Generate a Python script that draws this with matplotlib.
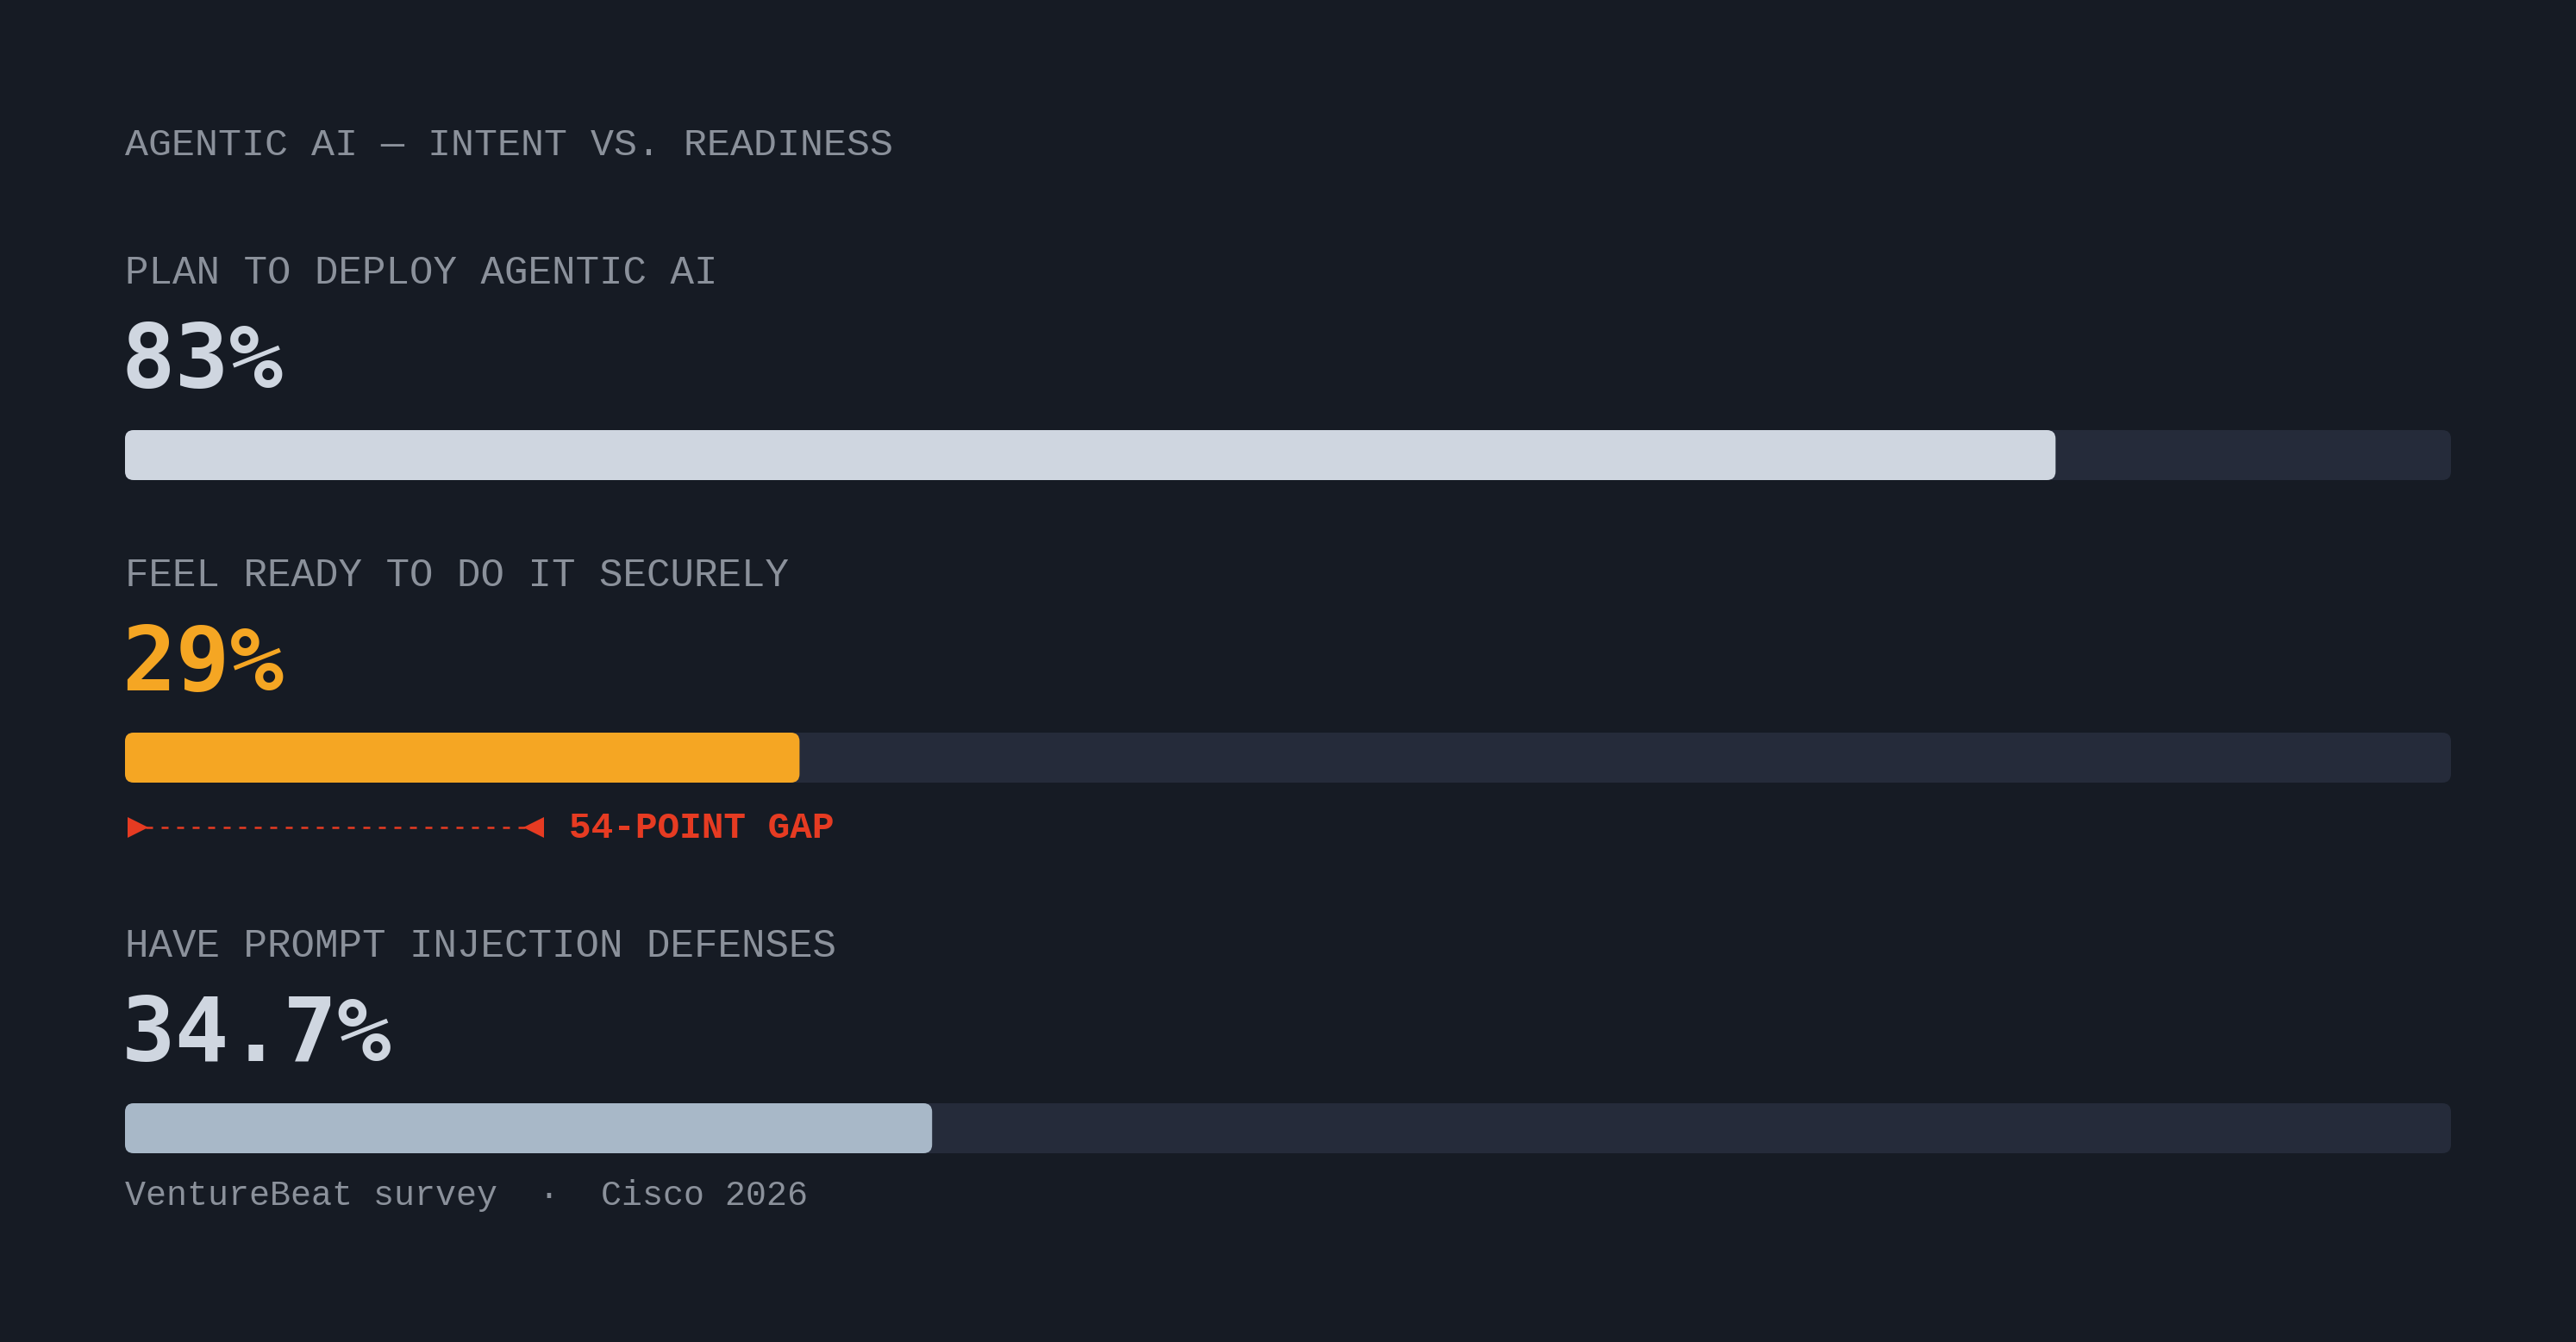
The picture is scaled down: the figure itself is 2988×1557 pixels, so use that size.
import matplotlib
matplotlib.use("Agg")
from matplotlib import pyplot as plt
from matplotlib.patches import FancyBboxPatch

# chart content
title = "AGENTIC AI \u2014 INTENT VS. READINESS"
labels = ["PLAN TO DEPLOY AGENTIC AI", "FEEL READY TO DO IT SECURELY", "HAVE PROMPT INJECTION DEFENSES"]
values = [83, 29, 34.7]
value_text = ["83%", "29%", "34.7%"]
gap_text = "54-POINT GAP"
footer = "VentureBeat survey  \u00b7  Cisco 2026"

# colours
BG = "#161b24"
TRACK = "#252b3a"
GREY = "#8b919b"
RED = "#e63b22"
bar_colors = ["#cfd6e0", "#f5a623", "#a8b8c8"]
num_colors = ["#cfd6e0", "#f5a623", "#cfd6e0"]

# layout (pixels)
W, H, DPI = 2988, 1557, 200
track_left, track_right = 145, 2843
px_per_unit = (track_right - track_left) / 100.0
row_tops = [499, 850, 1280]
bar_h = 58
radius = 10

fig = plt.figure(figsize=(W / DPI, H / DPI), dpi=DPI, facecolor=BG)
ax = fig.add_axes([0, 0, 1, 1])
ax.set_facecolor(BG)
ax.set_xlim(-track_left / px_per_unit, (W - track_left) / px_per_unit)
ax.set_ylim(H, 0)
ax.axis("off")

mono = "Liberation Mono"

ax.text(0, 180, title, fontsize=16.2, family=mono, color=GREY, va="baseline", ha="left")


def rounded(x, y, w, h, color):
    p = FancyBboxPatch((x, y), w, h,
                       boxstyle="round,pad=0,rounding_size=%f" % (radius / px_per_unit),
                       mutation_aspect=px_per_unit, fc=color, ec="none", lw=0)
    ax.add_patch(p)


for i in range(len(values)):
    top = row_tops[i]
    ax.text(0, top - 170, labels[i], fontsize=16.5, family=mono, color=GREY, va="baseline")
    ax.text(-0.15, top - 49, value_text[i], fontsize=37.5, family="DejaVu Sans Mono",
            weight="bold", color=num_colors[i], va="baseline")
    rounded(0, top, 100, bar_h, TRACK)
    rounded(0, top, values[i], bar_h, bar_colors[i])

# gap annotation under the second bar
gy = row_tops[1] + bar_h + 52
ax.plot([0.9, 17.2], [gy, gy], color=RED, lw=0.9, ls=(0, (3.2, 4)), solid_capstyle="butt")
ax.plot([0.56], [gy], marker=">", ms=8.3, color=RED, mew=0)
ax.plot([17.56], [gy], marker="<", ms=8.3, color=RED, mew=0)
ax.text(19.08, gy + 12, gap_text, fontsize=15.4, family=mono, weight="bold", color=RED, va="baseline")

ax.text(0, row_tops[2] + bar_h + 60, footer, fontsize=14.4, family=mono, color=GREY, va="baseline")

fig.savefig("out.png", dpi=DPI, facecolor=BG)
